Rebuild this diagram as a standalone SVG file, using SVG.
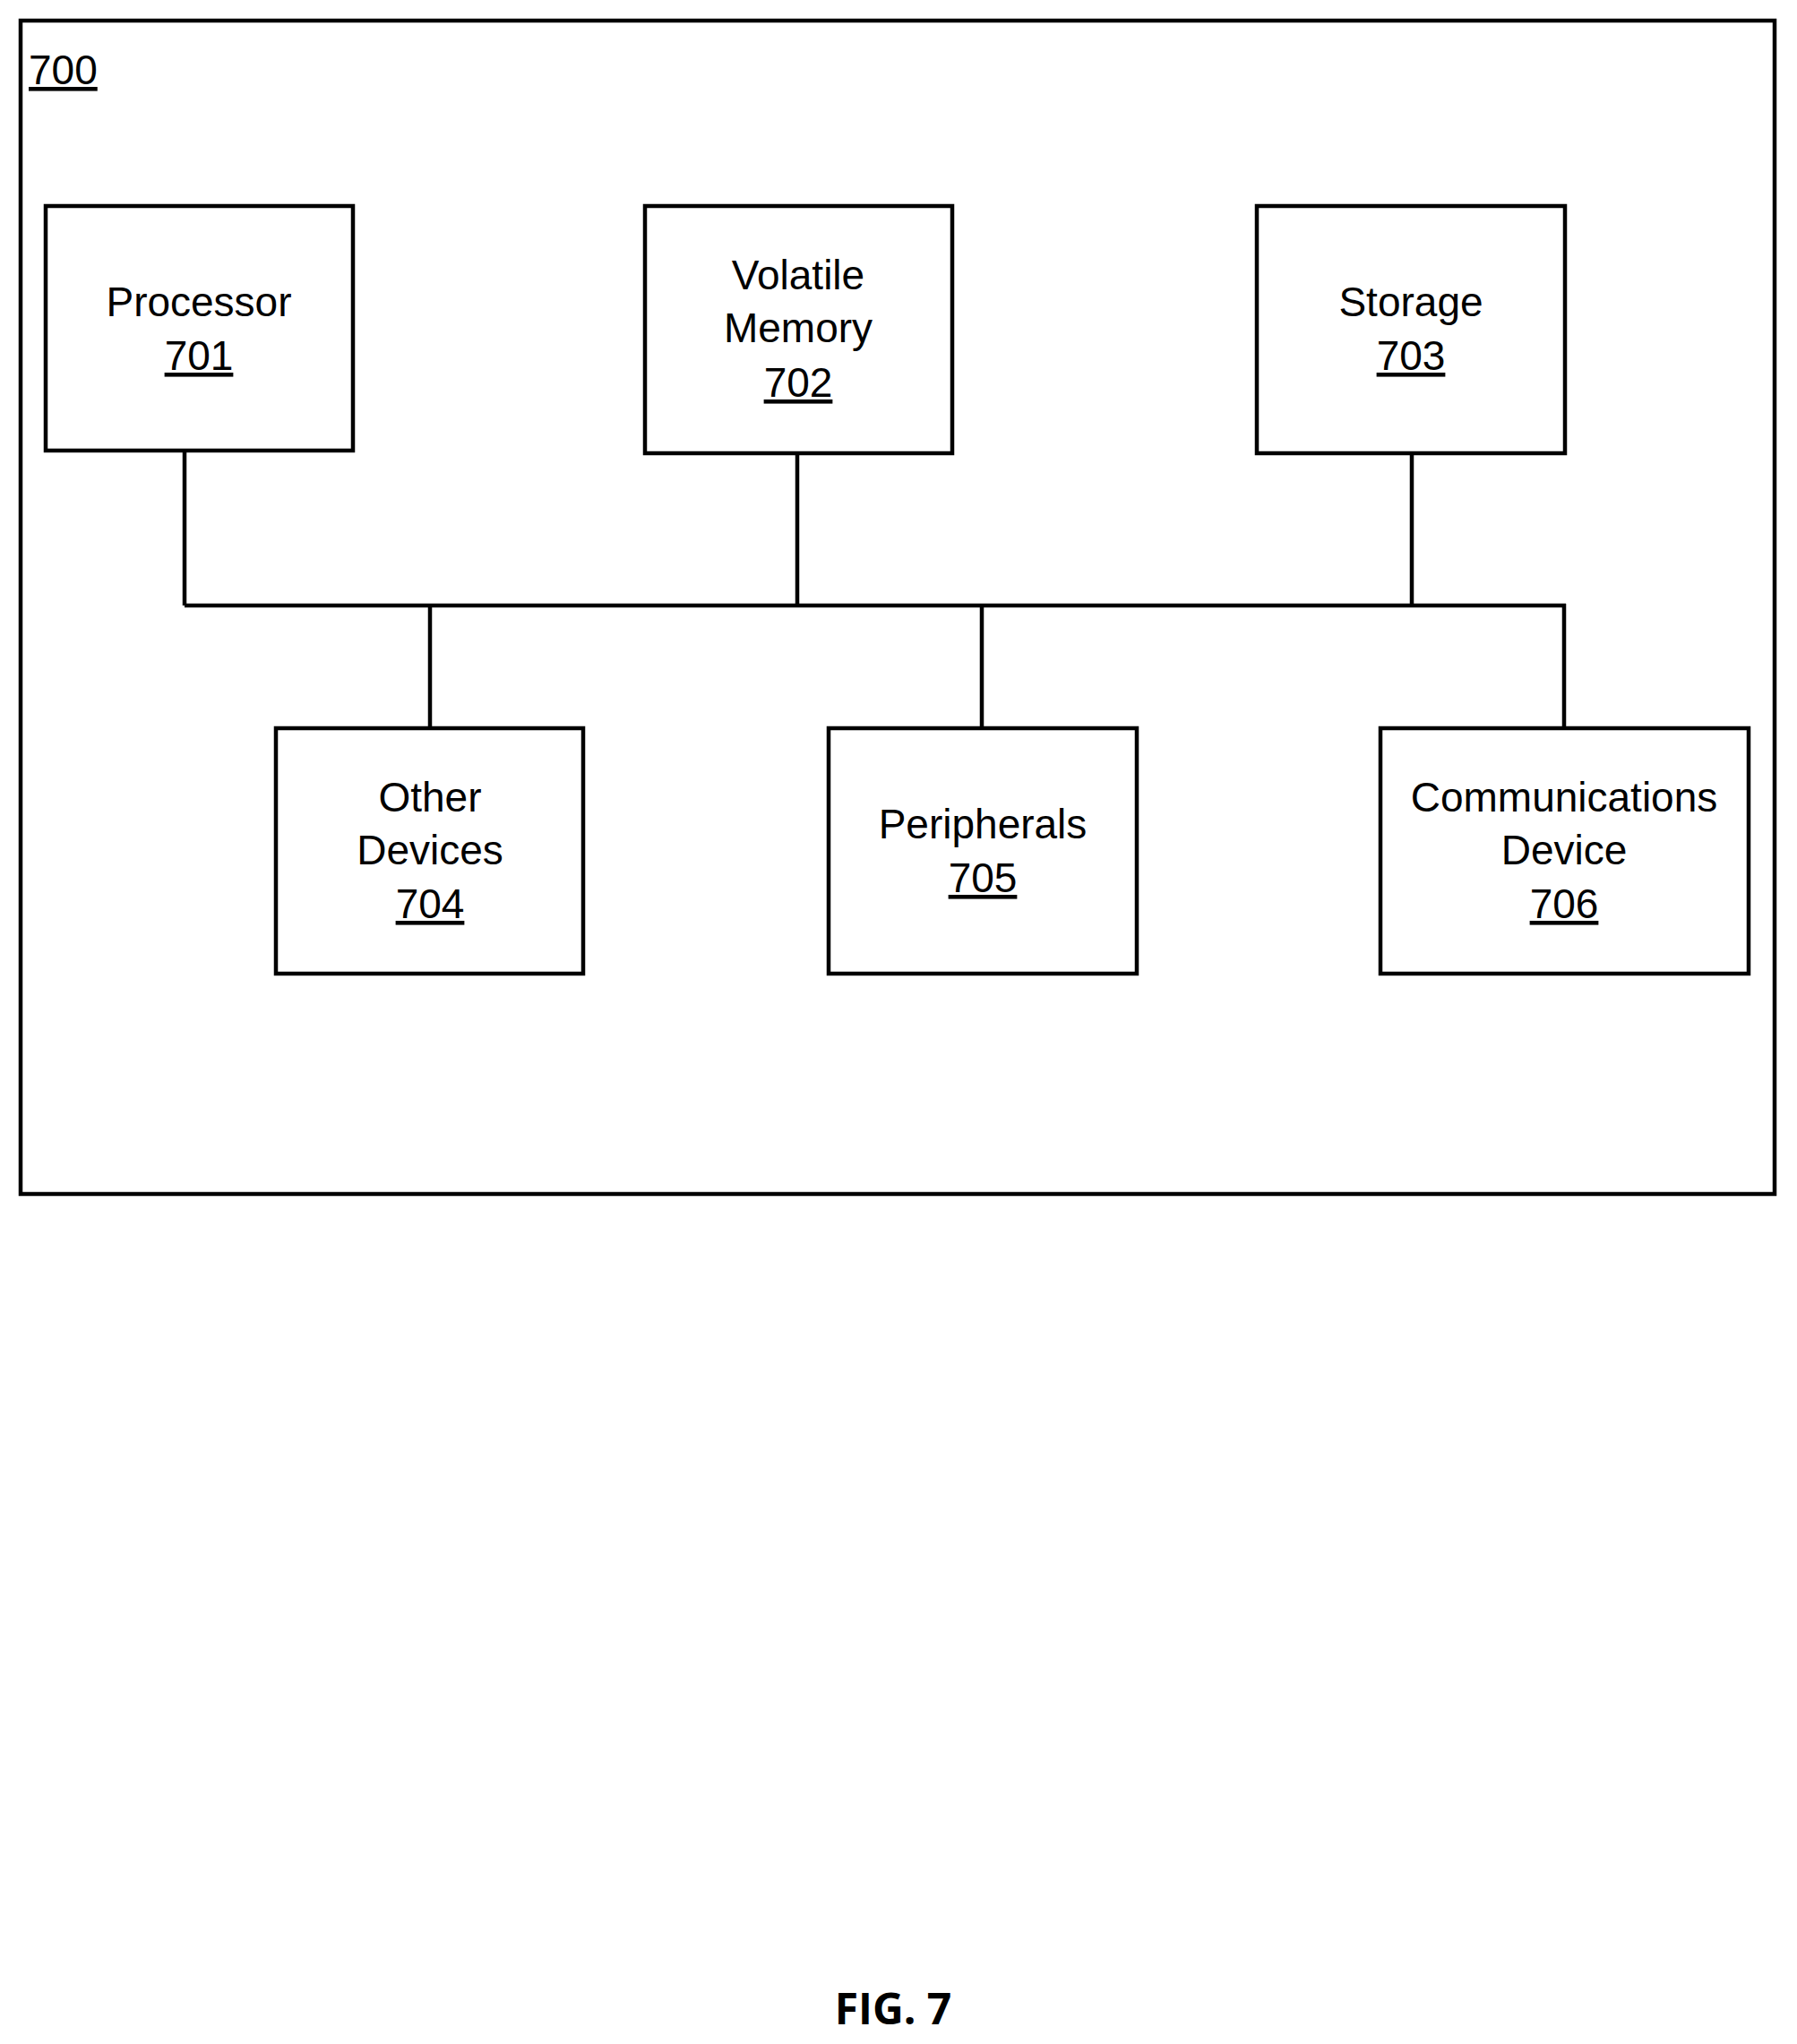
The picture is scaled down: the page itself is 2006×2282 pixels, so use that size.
<svg xmlns="http://www.w3.org/2000/svg" width="2006" height="2282" viewBox="0 0 2006 2282">
<style>
rect{fill:none;stroke:#000;stroke-width:4.5}
.c line{stroke:#000;stroke-width:4.5}
text{font-family:"Liberation Sans",Arial,sans-serif;font-size:46px;text-anchor:middle;fill:#000}
.u{text-decoration:underline}
</style>
<rect width="2006" height="2282" style="fill:#fff;stroke:none"/>
<g id="n700"><rect x="23" y="23" width="1958" height="1310"/><text x="32" y="94" class="u" style="text-anchor:start">700</text></g>
<g class="c" id="connectors">
<line x1="206" y1="676" x2="1748" y2="676"/>
<line x1="206" y1="503" x2="206" y2="676"/>
<line x1="890" y1="506" x2="890" y2="676"/>
<line x1="1576" y1="506" x2="1576" y2="676"/>
<line x1="480" y1="676" x2="480" y2="813"/>
<line x1="1096" y1="676" x2="1096" y2="813"/>
<line x1="1746" y1="674" x2="1746" y2="813"/>
</g>
<g id="n701"><rect x="51" y="230" width="343" height="273"/><text x="222" y="353">Processor</text><text x="222" y="413" class="u">701</text></g>
<g id="n702"><rect x="720" y="230" width="343" height="276"/><text x="891" y="323">Volatile</text><text x="891" y="382">Memory</text><text x="891" y="443" class="u">702</text></g>
<g id="n703"><rect x="1403" y="230" width="344" height="276"/><text x="1575" y="353">Storage</text><text x="1575" y="413" class="u">703</text></g>
<g id="n704"><rect x="308" y="813" width="343" height="274"/><text x="480" y="906">Other</text><text x="480" y="965">Devices</text><text x="480" y="1025" class="u">704</text></g>
<g id="n705"><rect x="925" y="813" width="344" height="274"/><text x="1097" y="936">Peripherals</text><text x="1097" y="996" class="u">705</text></g>
<g id="n706"><rect x="1541" y="813" width="411" height="274"/><text x="1746" y="906">Communications</text><text x="1746" y="965">Device</text><text x="1746" y="1025" class="u">706</text></g>
<text x="997" y="2260" style="font-family:'Open Sans','Liberation Sans',sans-serif;font-weight:bold;font-size:48px">FIG. 7</text>
</svg>
